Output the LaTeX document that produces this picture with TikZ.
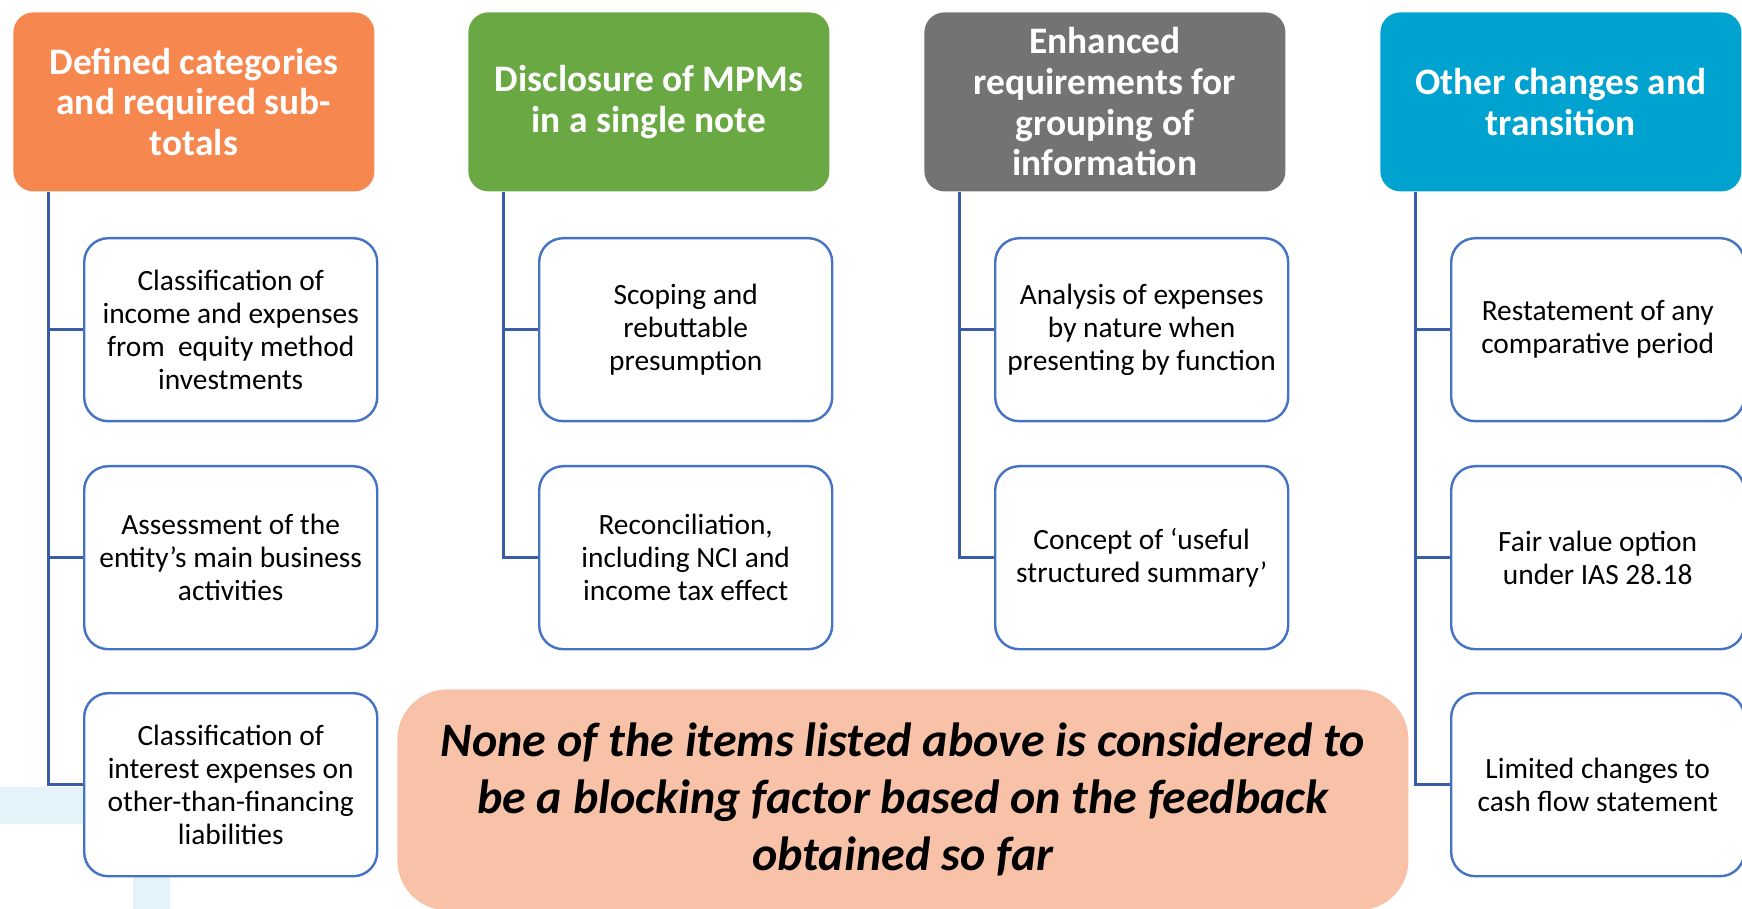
\documentclass[tikz,border=0pt]{standalone}
\usepackage{fontspec}
\setmainfont{Carlito}
\usetikzlibrary{positioning}
\definecolor{headorange}{HTML}{F5874F}
\definecolor{headgreen}{HTML}{6AA843}
\definecolor{headgray}{HTML}{737373}
\definecolor{headblue}{HTML}{00A3CF}
\definecolor{boxblue}{HTML}{4472C4}
\definecolor{treeblue}{HTML}{3A5BA6}
\definecolor{notepeach}{HTML}{F8C2A9}
\definecolor{paleblue}{HTML}{E4F3FA}

\tikzset{
  header/.style={rounded corners=10pt, anchor=north west, minimum width=180.5pt,
    minimum height=89.5pt, align=center, text=white, inner sep=0pt,
    font=\fontsize{18.7}{20.3}\selectfont\bfseries},
  item/.style={draw=boxblue, line width=1.2pt, fill=white, rounded corners=12pt,
    anchor=north west, minimum width=146.5pt, minimum height=91.5pt, align=center,
    inner sep=0pt, font=\fontsize{14.7}{16.5}\selectfont},
  tree/.style={draw=treeblue, line width=1.5pt},
}

\begin{document}
\begin{tikzpicture}[x=0.5pt, y=-0.5pt]
      \useasboundingbox (0,0) rectangle (1742,909);
      % pale background bars
      \fill[paleblue] (0,787) rectangle (170,824);
      \fill[paleblue] (133,787) rectangle (170,909);

      \node[header, fill=headorange] (h1) at (13,12) {Defined categories\\and required sub-\\totals};
      \node[header, fill=headgreen] (h2) at (468,12) {Disclosure of MPMs\\in a single note};
      \node[header, fill=headgray] (h3) at (924,12) {Enhanced\\requirements for\\grouping of\\information};
      \node[header, fill=headblue] (h4) at (1380,12) {Other changes and\\transition};

      \node[item] (c11) at (83,237) {Classification of\\income and expenses\\from \ equity method\\investments};
      \node[item] (c12) at (83,465) {Assessment of the\\entity’s main business\\activities};
      \node[item] (c13) at (83,692) {Classification of\\interest expenses on\\other-than-financing\\liabilities};

      \node[item] (c21) at (538,237) {Scoping and\\rebuttable\\presumption};
      \node[item] (c22) at (538,465) {Reconciliation,\\including NCI and\\income tax effect};

      \node[item] (c31) at (994,237) {Analysis of expenses\\by nature when\\presenting by function};
      \node[item] (c32) at (994,465) {Concept of ‘useful\\structured summary’};

      \node[item] (c41) at (1450,237) {Restatement of any\\comparative period};
      \node[item] (c42) at (1450,465) {Fair value option\\under IAS 28.18};
      \node[item] (c43) at (1450,692) {Limited changes to\\cash flow statement};

      \node[fill=notepeach, rounded corners=25pt, anchor=north west, minimum width=505.5pt,
        minimum height=110.5pt, align=center, inner sep=0pt,
        font=\fontsize{24}{28.5}\selectfont\bfseries\itshape] (note) at (397,689)
        {None of the items listed above is considered to\\be a blocking factor based on the feedback\\obtained so far};

      % tree connectors
      \coordinate (t1) at ([xshift=17.5pt]h1.south west);
      \coordinate (t2) at ([xshift=17.5pt]h2.south west);
      \coordinate (t3) at ([xshift=17.5pt]h3.south west);
      \coordinate (t4) at ([xshift=17.5pt]h4.south west);
      \draw[tree] (t1) |- (c13.west);
      \draw[tree] (t1 |- c11.west) -- (c11.west);
      \draw[tree] (t1 |- c12.west) -- (c12.west);
      \draw[tree] (t2) |- (c22.west);
      \draw[tree] (t2 |- c21.west) -- (c21.west);
      \draw[tree] (t3) |- (c32.west);
      \draw[tree] (t3 |- c31.west) -- (c31.west);
      \draw[tree] (t4) |- (c43.west);
      \draw[tree] (t4 |- c41.west) -- (c41.west);
      \draw[tree] (t4 |- c42.west) -- (c42.west);
\end{tikzpicture}
\end{document}
